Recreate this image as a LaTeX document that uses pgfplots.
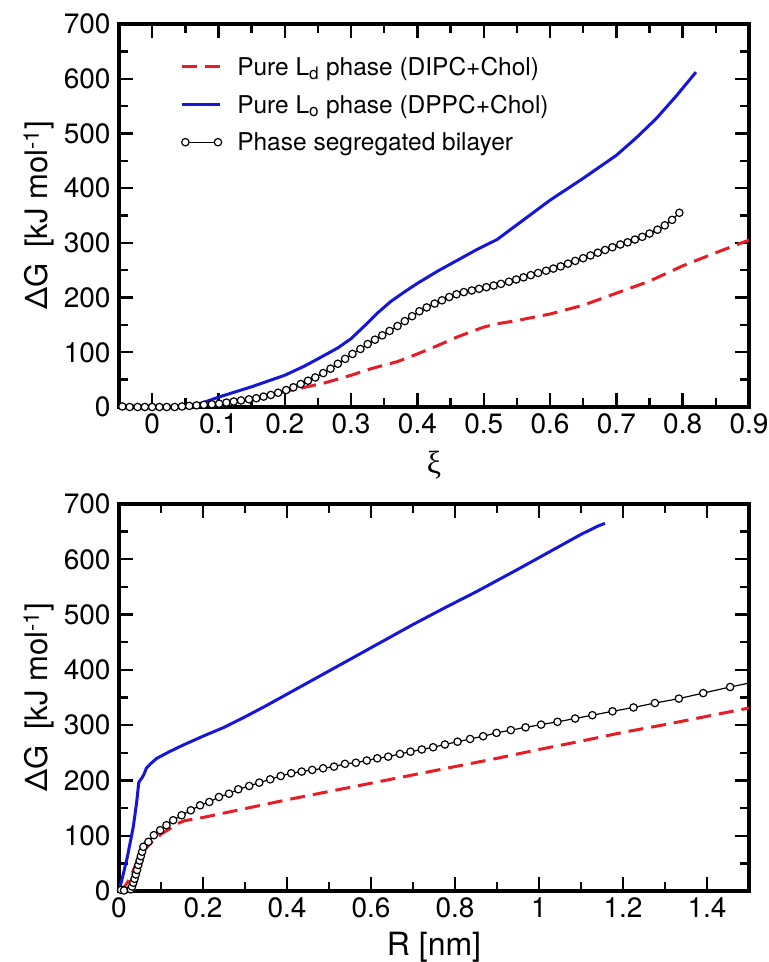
\documentclass[border=0pt]{standalone}
\usepackage{fontspec}
\setmainfont{TeX Gyre Heros}
\newfontfamily\greekserif{Liberation Serif}
\usepackage{pgfplots}
\pgfplotsset{compat=1.18}

\definecolor{ldred}{RGB}{232,28,36}
\definecolor{loblue}{RGB}{22,22,215}

\tikzset{
  ldline/.style={ldred, line width=3pt, dash pattern=on 15pt off 8pt},
  loline/.style={loblue, line width=3pt},
  segline/.style={black, line width=1.2pt, mark=*, mark size=3.7pt,
    mark options={fill=white, draw=black, line width=1.2pt, solid}},
}
\pgfplotsset{
  panel/.style={
    scale only axis, width=630pt,
    axis line style={line width=3.2pt},
    every tick/.style={black, line width=2.4pt},
    major tick length=14pt, minor tick length=9pt,
    tick align=inside,
    tick label style={font=\fontsize{28}{28}\selectfont},
    xticklabel style={yshift=-3pt},
    yticklabel style={xshift=-5pt},
    /pgf/number format/assume math mode=true,
    ymin=0, ymax=700, ytick={0,100,200,300,400,500,600,700},
    minor y tick num=1, minor x tick num=1,
    every axis y label/.style={at={(rel axis cs:-0.127,0.5)}, rotate=90, anchor=center,
      font=\fontsize{31}{31}\selectfont},
    ylabel={ΔG\hspace{16pt}[kJ mol\textsuperscript{-1}]},
  },
}

\begin{document}
\begin{tikzpicture}
\useasboundingbox (-119pt,-555pt) rectangle (650pt,407pt);

% upper panel: Delta G against xi
\begin{axis}[panel,
  at={(0pt,0pt)}, anchor=south west, height=383pt,
  xmin=-0.05, xmax=0.9,
  xtick={0,0.1,0.2,0.3,0.4,0.5,0.6,0.7,0.8,0.9},
  xlabel={\greekserif ξ},
  every axis x label/.style={at={(rel axis cs:0.5,0)}, anchor=center, yshift=-58pt,
    font=\fontsize{32}{32}\selectfont},
  legend style={at={(rel axis cs:0.092,0.925)}, anchor=north west,
    draw=none, fill=none, font=\fontsize{24.5}{24.5}\selectfont,
    row sep=14pt, column sep=13pt},
  legend cell align=left,
]
\addplot[ldline, legend image code/.code={\draw[ldline] (0pt,0pt) -- (38pt,0pt);}]
  coordinates {(-0.05,0) (0.05,0) (0.1,5) (0.15,14) (0.2,28) (0.23,36) (0.26,44)
  (0.3,58) (0.33,70) (0.37,83) (0.4,97) (0.43,112) (0.46,128) (0.5,146) (0.52,152)
  (0.55,158) (0.6,170) (0.65,186) (0.7,208) (0.75,230) (0.8,258) (0.85,282) (0.9,305)};
\addlegendentry{Pure L\textsubscript{d} phase (DIPC+Chol)}
\addplot[loline, legend image code/.code={\draw[loline] (0pt,0pt) -- (38pt,0pt);}]
  coordinates {(-0.05,2) (0.0,1) (0.05,1) (0.07,5) (0.1,18) (0.15,37) (0.2,58)
  (0.23,75) (0.25,88) (0.28,108) (0.3,125) (0.32,148) (0.34,172) (0.36,193)
  (0.38,210) (0.4,226) (0.43,248) (0.46,268) (0.49,288) (0.52,306) (0.55,333)
  (0.6,378) (0.65,418) (0.7,460) (0.73,492) (0.76,527) (0.79,568) (0.82,612)};
\addlegendentry{Pure L\textsubscript{o} phase (DPPC+Chol)}
\addplot[segline, legend image code/.code={
    \draw[black, line width=1.2pt] (3.7pt,0pt) -- (36.3pt,0pt);
    \draw[black, line width=1.2pt, fill=white] (3.7pt,0pt) circle (3.7pt) (36.3pt,0pt) circle (3.7pt);}]
  coordinates {(-0.045,1) (-0.034,0) (-0.022,0) (-0.011,0) (0.000,0) (0.011,0)
  (0.022,0) (0.034,0) (0.045,1) (0.056,2) (0.067,3) (0.078,4) (0.090,5) (0.101,6)
  (0.112,8) (0.123,10) (0.134,12) (0.146,14) (0.157,16) (0.168,19) (0.179,22)
  (0.190,26) (0.202,31) (0.213,36) (0.224,42) (0.235,48) (0.246,54) (0.258,62)
  (0.269,70) (0.280,79) (0.291,88) (0.302,97) (0.314,106) (0.325,115) (0.336,123)
  (0.347,131) (0.358,139) (0.370,148) (0.381,157) (0.392,166) (0.403,175) (0.414,182)
  (0.426,189) (0.437,195) (0.448,201) (0.459,206) (0.470,210) (0.482,213) (0.493,216)
  (0.504,219) (0.515,222) (0.526,225) (0.538,229) (0.549,233) (0.560,237) (0.571,241)
  (0.582,245) (0.594,249) (0.605,253) (0.616,257) (0.627,262) (0.638,267) (0.650,272)
  (0.661,277) (0.672,282) (0.683,287) (0.694,292) (0.706,297) (0.717,301) (0.728,306)
  (0.739,311) (0.750,317) (0.762,324) (0.773,332) (0.784,342) (0.795,355)};
\addlegendentry{Phase segregated bilayer}
\end{axis}

% lower panel: Delta G against R
\begin{axis}[panel,
  at={(0pt,-484pt)}, anchor=south west, height=387pt,
  xmin=0, xmax=1.5,
  xtick={0,0.2,0.4,0.6,0.8,1,1.2,1.4},
  xlabel={R [nm]},
  every axis x label/.style={at={(rel axis cs:0.5,0)}, anchor=center, yshift=-56pt,
    font=\fontsize{32}{32}\selectfont},
]
\addplot[ldline] coordinates {(0,0) (0.01,5) (0.02,15) (0.03,30) (0.04,48) (0.05,62)
  (0.06,73) (0.07,82) (0.08,90) (0.09,96) (0.1,103) (0.12,112) (0.14,122) (0.155,127)
  (0.2,133) (0.3,149) (0.4,165) (0.5,180) (0.6,195) (0.7,210) (0.8,225) (0.9,240)
  (1.0,256) (1.1,271) (1.2,287) (1.3,301) (1.4,316) (1.5,331)};
\addplot[loline] coordinates {(0,0) (0.005,15) (0.01,30) (0.02,62) (0.034,116)
  (0.042,160) (0.047,196) (0.05,200) (0.055,205) (0.06,212) (0.065,222) (0.075,230)
  (0.09,240) (0.1,244) (0.12,252) (0.15,263) (0.2,280) (0.25,296) (0.3,315) (0.35,335)
  (0.4,356) (0.5,398) (0.6,440) (0.7,482) (0.78,514) (0.85,541) (0.95,582)
  (1.0,603) (1.1,645) (1.14,660) (1.157,665)};
\addplot[black, line width=1.2pt, forget plot] coordinates {(1.455,369) (1.5,376)};
\addplot[segline] coordinates {(0.005,2) (0.012,1) (0.018,-2) (0.022,-3) (0.025,-1)
  (0.028,3) (0.031,8) (0.034,15) (0.037,22) (0.040,30) (0.043,38) (0.046,47)
  (0.049,55) (0.052,63) (0.055,71) (0.058,80) (0.070,89) (0.083,101) (0.098,110)
  (0.113,119) (0.129,128) (0.149,137) (0.171,146) (0.193,155) (0.215,161) (0.238,170)
  (0.262,176) (0.284,184) (0.310,190) (0.334,196) (0.360,202) (0.385,208) (0.410,213)
  (0.435,216) (0.460,219) (0.486,222) (0.512,225) (0.538,230) (0.564,232) (0.590,236)
  (0.615,240) (0.641,243) (0.669,248) (0.694,252) (0.721,256) (0.748,260) (0.776,265)
  (0.806,270) (0.836,275) (0.867,280) (0.899,286) (0.933,291) (0.968,296) (1.005,301)
  (1.044,306) (1.086,312) (1.127,318) (1.175,325) (1.225,332) (1.276,340) (1.333,348)
  (1.391,358) (1.455,369)};
\end{axis}
\end{tikzpicture}
\end{document}
